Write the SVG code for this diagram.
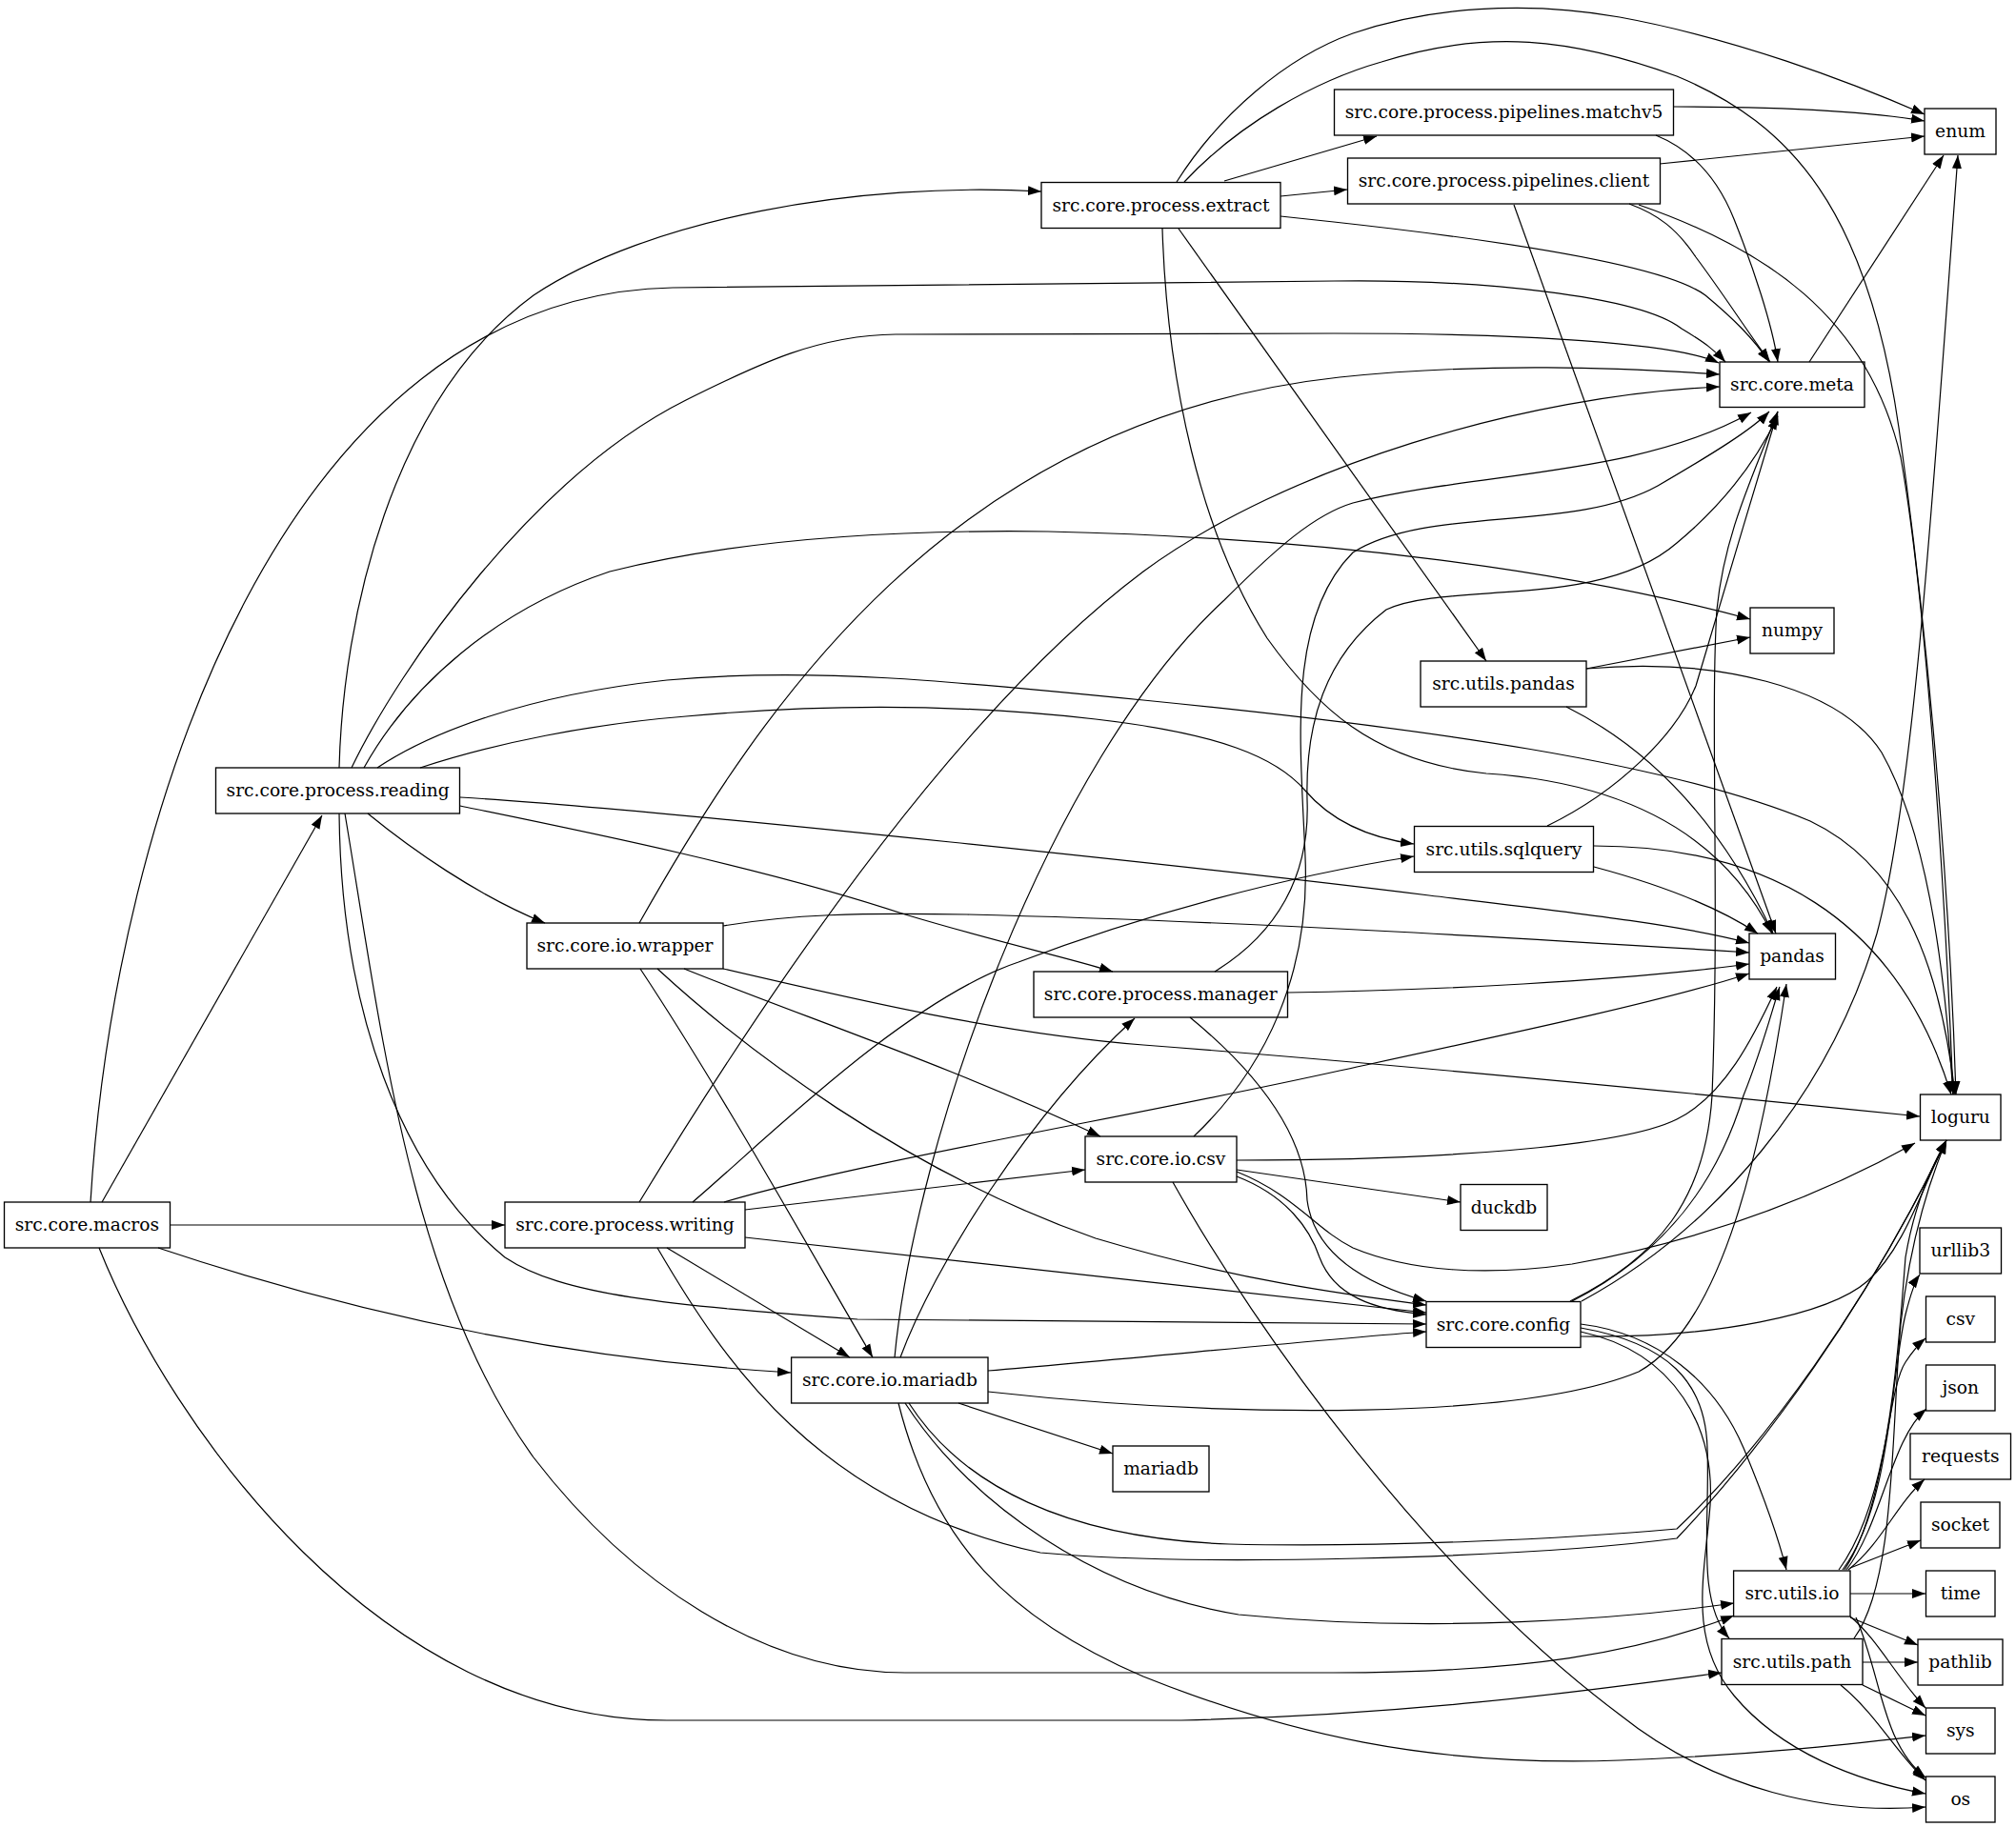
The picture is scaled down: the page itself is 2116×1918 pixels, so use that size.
<svg xmlns="http://www.w3.org/2000/svg" width="2116" height="1918" viewBox="0 0 2116 1918">
<style>
.n rect{fill:#fff;stroke:#000;stroke-width:1.33}
.n text{font-family:"DejaVu Serif","Liberation Serif",serif;font-size:18.67px;text-anchor:middle;fill:#000}
#edges path{fill:none;stroke:#000;stroke-width:1.2;marker-end:url(#ah)}
</style>
<defs>
<marker id="ah" markerUnits="userSpaceOnUse" markerWidth="15" markerHeight="11" viewBox="0 0 15 11" refX="14" refY="5.5" orient="auto"><path d="M0,0.5 L14,5.5 L0,10.5 z" fill="#000"/></marker>
</defs>
<rect width="2116" height="1918" fill="#fff"/>
<g id="nodes">
<g id="macros" class="n"><rect x="4.5" y="1262" width="174" height="48"/><text x="91.4" y="1292">src.core.macros</text></g>
<g id="reading" class="n"><rect x="226.5" y="806" width="256" height="48"/><text x="354.6" y="836">src.core.process.reading</text></g>
<g id="writing" class="n"><rect x="530" y="1262" width="252" height="48"/><text x="656" y="1292">src.core.process.writing</text></g>
<g id="wrapper" class="n"><rect x="553" y="969" width="206" height="48"/><text x="656" y="999">src.core.io.wrapper</text></g>
<g id="iomariadb" class="n"><rect x="830.6" y="1425" width="206.4" height="48"/><text x="934" y="1455">src.core.io.mariadb</text></g>
<g id="extract" class="n"><rect x="1093" y="191.5" width="251" height="48"/><text x="1218.5" y="221.5">src.core.process.extract</text></g>
<g id="manager" class="n"><rect x="1085" y="1020" width="266.5" height="48"/><text x="1218.3" y="1050">src.core.process.manager</text></g>
<g id="iocsv" class="n"><rect x="1139" y="1193" width="159" height="48"/><text x="1218.5" y="1223">src.core.io.csv</text></g>
<g id="mariadb" class="n"><rect x="1168" y="1518" width="101" height="48"/><text x="1218.5" y="1548">mariadb</text></g>
<g id="matchv5" class="n"><rect x="1400.5" y="94" width="356" height="48"/><text x="1578.5" y="124">src.core.process.pipelines.matchv5</text></g>
<g id="client" class="n"><rect x="1414.5" y="166" width="328" height="48"/><text x="1578.5" y="196">src.core.process.pipelines.client</text></g>
<g id="upandas" class="n"><rect x="1491" y="694" width="174" height="48"/><text x="1578" y="724">src.utils.pandas</text></g>
<g id="sqlquery" class="n"><rect x="1484.5" y="867.5" width="188" height="48"/><text x="1578.5" y="897.5">src.utils.sqlquery</text></g>
<g id="duckdb" class="n"><rect x="1533" y="1243.5" width="91" height="48"/><text x="1578.5" y="1273.5">duckdb</text></g>
<g id="config" class="n"><rect x="1497" y="1366.5" width="162" height="48"/><text x="1578" y="1396.5">src.core.config</text></g>
<g id="meta" class="n"><rect x="1805" y="380" width="152" height="47.5"/><text x="1881" y="409.5">src.core.meta</text></g>
<g id="numpy" class="n"><rect x="1837" y="638" width="88" height="48"/><text x="1881" y="668">numpy</text></g>
<g id="pandas" class="n"><rect x="1836" y="980" width="90.5" height="48"/><text x="1881" y="1010">pandas</text></g>
<g id="uio" class="n"><rect x="1819.6" y="1649" width="122.4" height="48"/><text x="1881" y="1679">src.utils.io</text></g>
<g id="upath" class="n"><rect x="1807" y="1720.5" width="148" height="48"/><text x="1881" y="1750.5">src.utils.path</text></g>
<g id="enum" class="n"><rect x="2020" y="114" width="75" height="48"/><text x="2057.5" y="144">enum</text></g>
<g id="loguru" class="n"><rect x="2015.5" y="1149" width="84.5" height="48"/><text x="2057.8" y="1179">loguru</text></g>
<g id="urllib3" class="n"><rect x="2015" y="1289" width="85.5" height="48"/><text x="2057.8" y="1319">urllib3</text></g>
<g id="csv" class="n"><rect x="2021.5" y="1361" width="72.5" height="48"/><text x="2057.8" y="1391">csv</text></g>
<g id="json" class="n"><rect x="2021.5" y="1433" width="72.5" height="48"/><text x="2057.8" y="1463">json</text></g>
<g id="requests" class="n"><rect x="2005" y="1505" width="105.5" height="48"/><text x="2057.8" y="1535">requests</text></g>
<g id="socket" class="n"><rect x="2016" y="1577" width="83" height="48"/><text x="2057.5" y="1607">socket</text></g>
<g id="time" class="n"><rect x="2021.5" y="1649" width="72.5" height="48"/><text x="2057.8" y="1679">time</text></g>
<g id="pathlib" class="n"><rect x="2013" y="1721" width="89" height="48"/><text x="2057.5" y="1751">pathlib</text></g>
<g id="sys" class="n"><rect x="2021.5" y="1793" width="72.5" height="48"/><text x="2057.8" y="1823">sys</text></g>
<g id="os" class="n"><rect x="2021.5" y="1865" width="72.5" height="48"/><text x="2057.8" y="1895">os</text></g>
</g>
<g id="edges">
<path d="M107,1262 L338,856"/>
<path d="M178,1286 L530,1286"/>
<path d="M166,1310 C330,1365 560,1425 830,1441"/>
<path d="M104,1310 C180,1500 400,1806 700,1806 L1240,1806 C1500,1800 1700,1770 1807,1756"/>
<path d="M95,1262 C120,850 300,310 706,302 L1400,295 C1550,293 1720,310 1765,345 C1790,360 1800,368 1811,380"/>
<path d="M356,806 C360,650 410,420 560,310 C680,230 900,190 1093,201"/>
<path d="M369,806 C420,700 560,500 720,420 C800,380 860,352 940,351 L1400,350 C1600,350 1760,360 1804,381"/>
<path d="M382,806 C430,720 520,640 640,600 C780,565 950,556 1100,558 C1400,565 1650,600 1837,650"/>
<path d="M396,806 C450,770 550,730 700,714 C850,700 1000,715 1200,735 C1500,765 1750,800 1900,862 C1990,905 2035,1000 2052,1149"/>
<path d="M441,806 C520,780 620,760 720,752 C850,740 1000,738 1150,755 C1280,770 1340,795 1370,830 C1400,865 1440,880 1484,886"/>
<path d="M483,837 C700,850 1300,915 1500,940 C1650,958 1760,970 1836,990"/>
<path d="M483,846 C600,870 800,910 950,960 C1050,990 1120,1005 1168,1020"/>
<path d="M386,854 C430,890 500,940 572,969"/>
<path d="M356,854 C358,1060 420,1230 530,1320 C590,1360 700,1370 900,1385 L1497,1390"/>
<path d="M362,854 C400,1080 430,1350 560,1530 C660,1660 800,1756 950,1756 L1400,1756 C1600,1756 1720,1735 1820,1696"/>
<path d="M727,1262 C800,1200 950,1050 1069,1010 C1200,960 1350,920 1484,899"/>
<path d="M671,1262 C800,1050 1000,750 1200,600 C1350,490 1600,415 1805,406"/>
<path d="M760,1262 C900,1220 1200,1170 1406,1124 C1600,1082 1750,1050 1836,1022"/>
<path d="M782,1270 L1139,1228"/>
<path d="M782,1299 L1497,1378"/>
<path d="M700,1310 L892,1425"/>
<path d="M690,1310 C760,1430 860,1580 1092,1630 C1250,1645 1600,1636 1760,1615 C1850,1520 1960,1370 2043,1197"/>
<path d="M671,969 C800,740 1000,440 1406,396 C1560,380 1700,386 1805,393"/>
<path d="M759,972 C830,960 900,958 1015,960 C1300,967 1600,985 1836,1000"/>
<path d="M759,1017 C900,1050 1050,1085 1200,1097 C1500,1120 1800,1150 2015,1172"/>
<path d="M718,1017 C850,1070 1000,1120 1155,1193"/>
<path d="M690,1017 C780,1100 950,1230 1150,1300 C1300,1345 1420,1360 1497,1370"/>
<path d="M672,1017 C760,1150 860,1330 916,1425"/>
<path d="M939,1425 C960,1200 1100,800 1285,630 C1340,575 1380,540 1420,528 C1550,495 1720,500 1838,433"/>
<path d="M945,1425 C980,1330 1080,1170 1191,1069"/>
<path d="M1037,1439 C1200,1425 1400,1405 1497,1398"/>
<path d="M1037,1461 C1300,1490 1600,1490 1720,1440 C1810,1390 1850,1200 1875,1033"/>
<path d="M1006,1473 L1168,1526"/>
<path d="M954,1473 C1010,1560 1120,1615 1290,1621 C1450,1625 1650,1615 1760,1605 C1850,1520 1960,1370 2043,1197"/>
<path d="M950,1473 C1020,1580 1150,1670 1300,1695 C1500,1715 1700,1700 1820,1683"/>
<path d="M943,1473 C980,1620 1060,1700 1200,1760 C1350,1820 1500,1855 1700,1848 C1850,1842 1950,1830 2021,1822"/>
<path d="M1235,191 C1280,120 1350,60 1420,35 C1500,8 1600,0 1700,18 C1820,40 1940,85 2020,120"/>
<path d="M1243,191 C1300,130 1380,85 1450,65 C1560,30 1650,40 1760,80 C1880,130 1960,220 1993,449 C2020,640 2045,900 2053,1149"/>
<path d="M1285,190 L1445,143"/>
<path d="M1344,206 L1414,199"/>
<path d="M1344,227 L1400,233 C1600,255 1750,280 1790,310 C1820,335 1840,355 1857,380"/>
<path d="M1237,240 L1560,694"/>
<path d="M1220,240 C1225,400 1260,560 1330,670 C1380,740 1440,800 1560,812 C1680,820 1800,860 1860,980"/>
<path d="M1757,112 C1850,112 1950,115 2020,127"/>
<path d="M1738,142 C1770,155 1800,180 1820,230 C1840,280 1860,340 1866,380"/>
<path d="M1742,172 L2020,143"/>
<path d="M1710,214 C1740,225 1760,240 1780,270 C1810,310 1835,350 1858,380"/>
<path d="M1720,215 C1850,260 1960,330 1995,480 C2020,620 2040,900 2050,1149"/>
<path d="M1589,215 L1864,980"/>
<path d="M1899,380 L2040,163"/>
<path d="M1660,1366 C1800,1290 1920,1150 1970,980 C2010,830 2030,500 2055,163"/>
<path d="M1665,702 L1837,669"/>
<path d="M1665,702 C1800,690 1930,720 1975,790 C2020,870 2040,1000 2050,1149"/>
<path d="M1644,742 C1720,780 1800,850 1861,980"/>
<path d="M1624,867 C1700,830 1760,770 1780,720 C1800,650 1840,520 1866,432"/>
<path d="M1673,910 C1740,928 1800,950 1845,980"/>
<path d="M1673,888 C1850,888 1990,960 2048,1149"/>
<path d="M1275,1020 C1340,980 1375,920 1372,840 C1370,760 1390,690 1455,640 C1520,610 1680,640 1760,570 C1820,520 1850,470 1866,437"/>
<path d="M1351,1042 C1500,1040 1700,1030 1836,1012"/>
<path d="M1249,1068 C1300,1110 1370,1180 1372,1260 C1380,1320 1440,1350 1497,1366"/>
<path d="M1253,1193 C1330,1120 1375,1020 1370,900 C1365,780 1350,650 1420,580 C1500,530 1650,560 1740,510 C1800,475 1840,450 1857,432"/>
<path d="M1298,1218 C1500,1218 1700,1205 1760,1175 C1810,1150 1840,1090 1865,1036"/>
<path d="M1298,1228 L1533,1262"/>
<path d="M1298,1230 C1360,1255 1380,1290 1420,1310 C1480,1335 1560,1340 1650,1327 C1800,1300 1920,1250 2010,1200"/>
<path d="M1298,1235 C1350,1255 1375,1290 1385,1320 C1400,1360 1440,1375 1497,1380"/>
<path d="M1231,1241 C1320,1400 1500,1650 1700,1800 C1800,1880 1920,1905 2021,1897"/>
<path d="M1648,1366 C1740,1320 1790,1260 1797,1150 C1805,950 1795,750 1802,640 C1810,560 1840,500 1866,432"/>
<path d="M1650,1366 C1740,1320 1800,1250 1830,1150 C1850,1100 1860,1060 1868,1036"/>
<path d="M1659,1403 C1800,1405 1920,1380 1960,1345 C2000,1310 2020,1240 2043,1197"/>
<path d="M1659,1390 C1740,1400 1800,1450 1830,1520 C1855,1580 1868,1620 1875,1648"/>
<path d="M1659,1394 C1750,1410 1790,1450 1792,1520 C1795,1600 1780,1680 1815,1720"/>
<path d="M1659,1398 C1760,1420 1800,1500 1795,1580 C1790,1650 1770,1720 1820,1780 C1870,1840 1950,1870 2021,1883"/>
<path d="M1930,1648 C1980,1580 1990,1450 2000,1320 C2010,1260 2030,1220 2043,1197"/>
<path d="M1934,1648 C1985,1580 1985,1440 2000,1380 C2005,1360 2010,1345 2015,1338"/>
<path d="M1936,1648 C1980,1580 1980,1460 2000,1430 C2008,1418 2015,1410 2021,1405"/>
<path d="M1938,1648 C1975,1600 1985,1510 2022,1479"/>
<path d="M1940,1648 C1975,1620 1990,1580 2020,1553"/>
<path d="M1942,1646 L2016,1617"/>
<path d="M1942,1673 L2021,1673"/>
<path d="M1942,1698 L2013,1727"/>
<path d="M1942,1697 C1970,1720 1990,1760 2021,1793"/>
<path d="M1948,1698 C1975,1760 1975,1830 2021,1866"/>
<path d="M1946,1720 C1990,1660 1985,1500 1995,1390 C2005,1300 2025,1240 2043,1197"/>
<path d="M1955,1745 L2013,1745"/>
<path d="M1955,1769 L2021,1801"/>
<path d="M1932,1769 C1970,1800 1990,1840 2021,1869"/>
</g>
</svg>
